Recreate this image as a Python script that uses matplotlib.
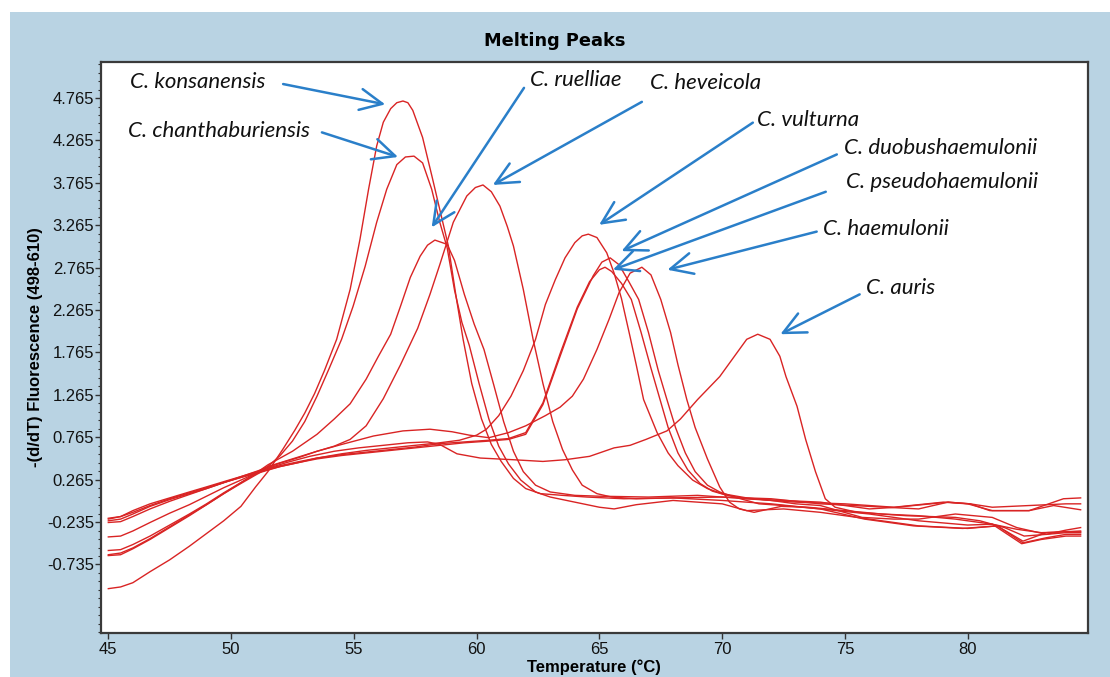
import matplotlib
matplotlib.use('Agg')
import matplotlib.pyplot as plt
from matplotlib.patches import Rectangle
import numpy as np

# melting peak curves, (temperature, -dF/dT)
konsanensis = [(45.0, -1.02), (45.5, -1.00), (46.0, -0.95), (46.7, -0.82), (47.5, -0.68), (48.3, -0.52),
               (49.0, -0.37), (49.7, -0.22), (50.4, -0.05), (51.0, 0.18), (51.5, 0.36), (52.1, 0.62),
               (52.6, 0.85), (53.0, 1.05), (53.4, 1.28), (53.8, 1.55), (54.3, 1.92), (54.85, 2.51),
               (55.25, 3.10), (55.6, 3.69), (55.93, 4.20), (56.2, 4.48), (56.5, 4.64), (56.75, 4.71),
               (57.0, 4.73), (57.2, 4.71), (57.4, 4.62), (57.8, 4.30), (58.2, 3.82), (58.5, 3.45), (58.85, 3.02),
               (59.15, 2.45), (59.45, 1.92), (59.8, 1.40), (60.2, 0.98), (60.6, 0.68), (61.0, 0.48),
               (61.5, 0.28), (62.0, 0.16), (62.6, 0.10), (63.5, 0.08), (64.5, 0.06), (66.0, 0.04),
               (68.0, 0.05), (70.0, 0.02), (72.0, -0.02), (74.0, -0.08), (76.0, -0.14), (78.0, -0.22),
               (80.0, -0.27), (81.0, -0.26), (82.0, -0.32), (83.0, -0.36), (84.0, -0.35), (84.6, -0.35)]

chanthaburiensis = [(45.0, -0.63), (45.5, -0.62), (46.0, -0.55), (46.7, -0.44), (47.5, -0.30), (48.3, -0.16),
                    (49.0, -0.03), (49.7, 0.10), (50.4, 0.23), (51.0, 0.33), (51.5, 0.42), (52.0, 0.55),
                    (52.5, 0.72), (53.0, 0.95), (53.5, 1.25), (54.0, 1.58), (54.5, 1.92), (54.97, 2.31),
                    (55.46, 2.78), (55.93, 3.30), (56.34, 3.69), (56.75, 3.98), (57.1, 4.07), (57.45, 4.08),
                    (57.8, 4.00), (58.17, 3.69), (58.5, 3.30), (58.8, 3.00), (59.1, 2.50), (59.4, 2.12),
                    (59.7, 1.85), (60.1, 1.40), (60.5, 0.98), (60.9, 0.66), (61.3, 0.45), (61.8, 0.26),
                    (62.4, 0.12), (63.0, 0.06), (64.0, 0.00), (65.0, -0.06), (65.6, -0.08), (66.5, -0.03),
                    (68.0, 0.02), (70.0, -0.02), (71.0, -0.10), (72.5, -0.08), (74.0, -0.12), (76.0, -0.20),
                    (78.0, -0.28), (80.0, -0.31), (81.2, -0.28), (82.25, -0.48), (83.2, -0.42), (84.0, -0.38),
                    (84.6, -0.38)]

ruelliae = [(45.0, -0.57), (45.5, -0.56), (46.0, -0.50), (46.7, -0.40), (47.5, -0.27), (48.3, -0.14),
            (49.0, -0.02), (49.7, 0.11), (50.4, 0.23), (51.0, 0.34), (51.5, 0.44), (52.5, 0.60),
            (53.5, 0.80), (54.2, 0.98), (54.85, 1.16), (55.5, 1.45), (56.0, 1.72), (56.5, 1.98),
            (56.9, 2.31), (57.3, 2.65), (57.7, 2.90), (58.0, 3.03), (58.3, 3.09), (58.6, 3.06),
            (58.8, 3.04), (59.1, 2.85), (59.5, 2.45), (59.9, 2.10), (60.3, 1.80), (60.7, 1.38),
            (61.1, 0.95), (61.5, 0.60), (61.9, 0.36), (62.4, 0.20), (63.0, 0.12), (64.0, 0.08),
            (65.0, 0.07), (67.0, 0.06), (69.0, 0.08), (71.0, 0.04), (73.0, 0.00), (75.0, -0.02),
            (77.0, -0.06), (79.0, 0.00), (80.0, -0.02), (81.0, -0.10), (82.5, -0.10), (83.9, 0.04),
            (84.6, 0.05)]

heveicola = [(45.0, -0.41), (45.5, -0.40), (46.0, -0.34), (46.7, -0.24), (47.5, -0.13), (48.3, -0.03),
             (49.0, 0.07), (49.7, 0.17), (50.4, 0.26), (51.0, 0.34), (51.5, 0.42), (52.5, 0.51),
             (53.5, 0.60), (54.2, 0.66), (54.85, 0.74), (55.5, 0.90), (56.2, 1.22), (56.9, 1.62),
             (57.6, 2.05), (58.1, 2.45), (58.5, 2.80), (59.05, 3.30), (59.6, 3.61), (59.95, 3.71),
             (60.26, 3.74), (60.6, 3.66), (60.95, 3.49), (61.25, 3.25), (61.5, 3.02), (61.9, 2.51),
             (62.3, 1.92), (62.7, 1.40), (63.1, 0.95), (63.5, 0.62), (63.9, 0.38), (64.3, 0.20),
             (64.9, 0.10), (65.5, 0.06), (66.5, 0.04), (68.0, 0.05), (70.0, 0.06), (72.0, 0.04),
             (74.0, -0.02), (76.0, -0.05), (78.0, -0.08), (79.2, 0.00), (80.1, -0.02), (81.0, -0.06),
             (82.5, -0.04), (84.0, -0.02), (84.6, -0.02)]

vulturna = [(45.0, -0.20), (45.5, -0.17), (46.0, -0.10), (46.7, -0.02), (47.5, 0.05), (48.3, 0.12),
            (49.0, 0.18), (49.8, 0.25), (50.5, 0.31), (51.3, 0.38), (52.0, 0.43), (52.8, 0.48),
            (53.5, 0.52), (54.5, 0.57), (55.5, 0.61), (56.5, 0.64), (57.5, 0.67), (58.5, 0.70),
            (59.3, 0.73), (60.0, 0.79), (60.4, 0.86), (60.9, 1.02), (61.4, 1.25), (61.9, 1.55),
            (62.4, 1.92), (62.8, 2.33), (63.2, 2.62), (63.6, 2.88), (64.0, 3.06), (64.3, 3.14),
            (64.55, 3.16), (64.9, 3.12), (65.3, 2.94), (65.6, 2.70), (65.9, 2.40), (66.25, 1.95),
            (66.5, 1.62), (66.8, 1.21), (67.35, 0.82), (67.8, 0.58), (68.2, 0.43), (68.8, 0.26),
            (69.4, 0.16), (70.0, 0.10), (71.0, 0.05), (72.0, 0.02), (73.0, -0.02), (74.0, -0.04),
            (75.7, -0.18), (77.0, -0.20), (78.0, -0.20), (79.5, -0.14), (81.0, -0.18), (82.0, -0.30),
            (83.2, -0.38), (84.0, -0.33), (84.6, -0.30)]

duobushaemulonii = [(45.0, -0.22), (45.5, -0.20), (46.0, -0.14), (46.7, -0.05), (47.5, 0.03), (48.3, 0.10),
                    (49.0, 0.16), (49.8, 0.24), (50.5, 0.30), (51.3, 0.37), (52.0, 0.42), (52.8, 0.47),
                    (53.5, 0.51), (54.5, 0.55), (55.5, 0.58), (56.5, 0.61), (57.5, 0.64), (58.5, 0.67),
                    (59.5, 0.70), (60.5, 0.72), (61.3, 0.74), (62.0, 0.80), (62.7, 1.15), (63.4, 1.72),
                    (64.1, 2.28), (64.75, 2.67), (65.1, 2.83), (65.44, 2.88), (65.8, 2.80), (66.2, 2.60),
                    (66.6, 2.39), (67.0, 2.00), (67.4, 1.55), (67.75, 1.21), (68.1, 0.88), (68.5, 0.58),
                    (68.9, 0.36), (69.4, 0.20), (69.9, 0.12), (70.5, 0.06), (71.5, -0.02), (72.5, -0.04),
                    (74.0, -0.08), (75.8, -0.20), (77.8, -0.28), (79.8, -0.31), (81.2, -0.28), (82.25, -0.46),
                    (83.2, -0.36), (84.6, -0.34)]

pseudohaemulonii = [(45.0, -0.19), (45.5, -0.17), (46.0, -0.12), (46.7, -0.04), (47.5, 0.04), (48.3, 0.11),
                    (49.0, 0.17), (49.8, 0.24), (50.5, 0.30), (51.3, 0.36), (52.0, 0.42), (52.8, 0.47),
                    (53.5, 0.52), (54.5, 0.56), (55.5, 0.59), (56.5, 0.62), (57.5, 0.65), (58.5, 0.69),
                    (59.5, 0.71), (60.5, 0.73), (61.3, 0.75), (62.0, 0.82), (62.7, 1.17), (63.4, 1.75),
                    (64.1, 2.30), (64.6, 2.60), (65.0, 2.74), (65.23, 2.77), (65.5, 2.72), (65.9, 2.58),
                    (66.3, 2.39), (66.7, 2.00), (67.1, 1.58), (67.47, 1.21), (67.8, 0.88), (68.2, 0.58),
                    (68.6, 0.38), (69.1, 0.22), (69.6, 0.13), (70.2, 0.08), (71.0, 0.04), (72.5, 0.02),
                    (74.0, 0.00), (76.0, -0.08), (77.1, -0.06), (79.2, 0.00), (80.1, -0.02), (80.9, -0.10),
                    (82.5, -0.10), (83.5, -0.04), (84.6, -0.09)]

haemulonii = [(45.0, -0.24), (45.5, -0.23), (46.0, -0.17), (46.7, -0.08), (47.5, 0.01), (48.3, 0.09),
              (49.0, 0.16), (49.8, 0.24), (50.5, 0.31), (51.3, 0.39), (52.0, 0.46), (52.8, 0.53),
              (53.5, 0.60), (54.5, 0.68), (55.8, 0.78), (57.0, 0.84), (58.1, 0.86), (59.0, 0.83),
              (59.7, 0.79), (60.5, 0.76), (61.3, 0.82), (62.0, 0.90), (62.8, 1.02), (63.4, 1.12),
              (63.9, 1.25), (64.35, 1.45), (64.9, 1.80), (65.4, 2.16), (65.8, 2.47), (66.25, 2.70),
              (66.73, 2.77), (67.1, 2.68), (67.5, 2.39), (67.9, 2.00), (68.2, 1.62), (68.56, 1.21),
              (68.9, 0.88), (69.4, 0.51), (69.9, 0.18), (70.3, 0.00), (70.7, -0.08), (71.3, -0.12),
              (72.4, -0.05), (73.5, -0.06), (75.0, -0.10), (76.5, -0.14), (78.0, -0.16), (79.5, -0.20),
              (81.0, -0.26), (82.2, -0.49), (83.0, -0.44), (84.0, -0.40), (84.6, -0.40)]

auris = [(45.0, -0.62), (45.5, -0.60), (46.0, -0.54), (46.7, -0.43), (47.5, -0.29), (48.3, -0.15),
         (49.0, -0.03), (49.7, 0.10), (50.4, 0.22), (51.0, 0.32), (51.5, 0.40), (52.3, 0.47),
         (53.2, 0.54), (54.2, 0.60), (55.2, 0.64), (56.2, 0.67), (57.2, 0.70), (58.0, 0.71),
         (58.5, 0.68), (59.2, 0.57), (60.15, 0.52), (61.5, 0.50), (62.7, 0.48), (63.6, 0.50),
         (64.6, 0.54), (65.6, 0.64), (66.25, 0.67), (66.9, 0.74), (67.75, 0.84), (68.3, 0.98),
         (69.0, 1.21), (69.9, 1.48), (70.6, 1.76), (71.0, 1.92), (71.45, 1.98), (71.95, 1.92),
         (72.35, 1.72), (72.6, 1.48), (73.05, 1.13), (73.4, 0.74), (73.8, 0.36), (74.2, 0.04),
         (74.6, -0.06), (75.5, -0.12), (76.5, -0.14), (77.5, -0.16), (78.5, -0.17), (79.5, -0.18),
         (80.5, -0.22), (81.5, -0.30), (82.3, -0.40), (83.2, -0.38), (84.0, -0.36), (84.6, -0.36)]

curves = [konsanensis, chanthaburiensis, ruelliae, heveicola, vulturna,
          duobushaemulonii, pseudohaemulonii, haemulonii, auris]

species = ['C. konsanensis', 'C. chanthaburiensis', 'C. ruelliae', 'C. heveicola', 'C. vulturna',
           'C. duobushaemulonii', 'C. pseudohaemulonii', 'C. haemulonii', 'C. auris']

x_ticks = [45, 50, 55, 60, 65, 70, 75, 80]
y_ticks = [-0.735, -0.235, 0.265, 0.765, 1.265, 1.765, 2.265, 2.765, 3.265, 3.765, 4.265, 4.765]
y_tick_labels = ['-0.735', '-0.235', '0.265', '0.765', '1.265', '1.765',
                 '2.265', '2.765', '3.265', '3.765', '4.265', '4.765']

# label layout: text start, arrow tail, arrow tip (data coords)
label_pos = [(45.88, 4.96), (45.80, 4.38), (62.18, 4.98), (67.07, 4.945), (71.42, 4.51),
             (74.97, 4.18), (75.05, 3.77), (74.11, 3.22), (75.86, 2.52)]
arrow_tail = [(52.12, 4.93), (53.70, 4.36), (61.93, 4.885), (66.73, 4.72), (71.25, 4.475),
              (74.67, 4.10), (74.22, 3.66), (73.85, 3.19), (75.60, 2.45)]
arrow_tip = [(56.28, 4.69), (56.80, 4.07), (58.17, 3.24), (60.66, 3.74), (64.99, 3.27),
             (65.90, 2.96), (65.55, 2.74), (67.77, 2.74), (72.37, 1.98)]

W, H = 1110, 677
fig = plt.figure(figsize=(W / 100, H / 100), dpi=100, facecolor='white')
fig.add_artist(Rectangle((10 / W, 0), 1, (H - 12) / H, transform=fig.transFigure,
                         facecolor='#b9d3e3', edgecolor='none', zorder=0))

left, right, top, bottom = 100.7, 1088, 62, 633
ax = fig.add_axes([left / W, 1 - bottom / H, (right - left) / W, (bottom - top) / H])
ax.set_facecolor('white')

for c in curves:
    t, v = zip(*c)
    ax.plot(t, v, color='#d92424', lw=1.0, solid_joinstyle='round')

ax.set_xlim(44.69, 84.9)
ax.set_ylim(-1.543, 5.19)

ax.set_xticks(x_ticks)
ax.set_xticklabels([str(x) for x in x_ticks], fontsize=12, family='Liberation Sans')
ax.set_yticks(y_ticks)
ax.set_yticklabels(y_tick_labels, fontsize=12, family='Liberation Sans')
ax.set_yticks(np.arange(-1.535, 5.19, 0.1), minor=True)
ax.tick_params(axis='y', which='major', length=4, width=1, pad=0.6, colors='#333333')
ax.tick_params(axis='y', which='minor', length=2.2, width=0.8, colors='#333333')
ax.tick_params(axis='x', which='major', length=4, width=1, pad=2.5, colors='#333333')
for lab in ax.get_xticklabels() + ax.get_yticklabels():
    lab.set_color('#111111')

for s in ax.spines.values():
    s.set_color('#3a3a3a')
    s.set_linewidth(1.6)

ax.set_xlabel('Temperature (°C)', fontsize=12, fontweight='bold', family='Liberation Sans')
ax.xaxis.set_label_coords(0.5, -0.046)
ax.set_ylabel('-(d/dT) Fluorescence (498-610)', fontsize=12, fontweight='bold', family='Liberation Sans')
ax.yaxis.set_label_coords(-0.058, 0.5)

fig.text(0.5, 1 - 41 / H, 'Melting Peaks', ha='center', va='center',
         fontsize=12.8, fontweight='bold', family='DejaVu Sans')

blue = '#2a7fc9'
for name, pos, tail, tip in zip(species, label_pos, arrow_tail, arrow_tip):
    ax.text(pos[0], pos[1], name, ha='left', va='center', fontsize=16,
            family=['Lato', 'DejaVu Sans'], style='italic', color='#111111')
    ax.annotate('', xy=tip, xytext=tail,
                arrowprops=dict(arrowstyle='->,head_length=0.8,head_width=0.38',
                                color=blue, lw=1.8, mutation_scale=20,
                                shrinkA=0, shrinkB=0))

fig.savefig('out.png', dpi=100, facecolor=fig.get_facecolor())
